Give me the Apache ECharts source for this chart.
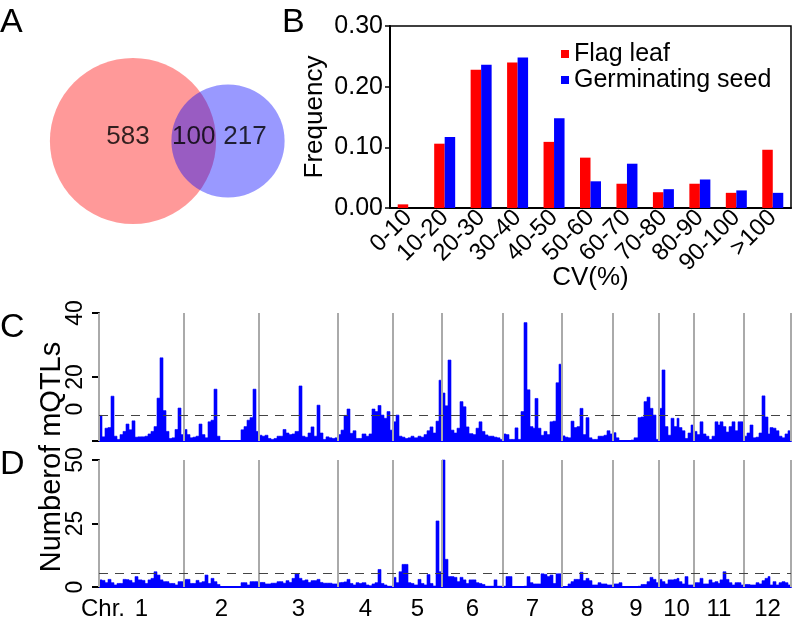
<!DOCTYPE html>
<html><head><meta charset="utf-8">
<script src="https://cdn.jsdelivr.net/npm/echarts@6/dist/echarts.min.js"></script>
<style>html,body{margin:0;padding:0;background:#fff}#c{width:799px;height:624px}</style>
</head><body><div id="c"></div>
<script>
// ---- Panel A: Venn counts ----
const vennOnlyLeaf = 583;
const vennShared = 100;
const vennOnlySeed = 217;

// ---- Panel B: CV distribution ----
const cvBins = ['0-10','10-20','20-30','30-40','40-50','50-60','60-70','70-80','80-90','90-100','>100'];
const flagLeaf = [0.006,0.106,0.228,0.240,0.109,0.083,0.040,0.026,0.040,0.025,0.096];
const germSeed = [0,0.117,0.236,0.248,0.148,0.044,0.073,0.031,0.047,0.029,0.025];

// ---- Panels C/D: mQTL counts along chromosomes ----
const chrNames = ['1','2','3','4','5','6','7','8','9','10','11','12'];
const chrLengths = [85,75,79,55,49,61,59,51,46,35,50,47];
const leafThreshold = 8;
const seedThreshold = 5.5;

const leafChr1 = [8,1.3,4,4.2,14,1.5,0.5,2,3,5.3,3.5,6.3,1.2,1.3,1.3,1.5,2.2,3,4.5,13.4,26,9.5,3,0.8,1,3.6,10.3,2];
const leafChr2 = [3.6,2,1,1.2,1.5,5.3,2,1,6,6.5,16.2,1.5,0,0,0,0,0,0,0,3.5,4.5,6.5,7.3,16.2,3];
const leafChr3 = [1.8,1.5,1.8,0.8,0.5,0.8,1.5,1.5,3.6,2.5,2,2.2,3,17.2,1.5,1.2,2.5,4.4,1.5,11.2,2.5,0.5,1.3,1,0.8,1];
const leafChr4 = [2,3.4,8,10,2.4,3.2,0.8,0.8,2.2,1.5,2.2,10,9.2,11.1,8.1,7.1,9.2,3.4];
const leafChr5 = [6,8.1,1.5,1.2,0.8,1,1.5,1,1.5,1.2,2,3.2,4.4,2.5,6.2,19];
const leafChr6 = [15,11,25.3,3.4,2.5,4,12.3,10.7,4.4,2.3,2,4,6,3,1.9,1.5,1.5,1.2,1,0.5];
const leafChr7 = [2.2,2,0.5,0.5,4.1,0.5,9.2,37,16,4.5,4,13.3,4,1.8,3,2,6,6.2,18.2,24];
const leafChr8 = [1.6,1.2,1,6.2,4.2,4.5,10.2,2,7.3,1,0.5,0.5,1.5,1.5,1.8,3.2,2.2];
const leafChr9 = [2.6,1,0,0,0,0,0.3,1,7.3,7.5,12.3,13.7,10.2,8.1,0.5];
const leafChr10 = [10.2,22.2,4.5,1.8,7.1,4.5,7.1,4.2,3.2,0.8,2.5,5];
const leafChr11 = [3,2,6,2.2,1.5,0.5,1.5,6,5,6,4.5,2.8,4.5,6,3.2,6,6];
const leafChr12 = [1.5,2.5,5,1,1.2,2.5,14.1,7.5,2.2,4.2,4,3.2,1.5,1,2.2,3.2];

const seedChr1 = [2.8,2.6,1.7,3.0,1.7,0.8,1.4,1.4,3.0,2.9,2.6,1.7,4.1,2.8,2.6,1.4,2.8,3.4,6.0,4.7,2.8,2.1,2.1,1.4,1.4,0.8,2.1,2.1];
const seedChr2 = [3.0,3.0,1.4,1.4,2.6,1.7,2.1,4.7,1.4,3.4,2.1,1.0,0,0,0,0,0,0,0,1.7,1.7,0.8,2.1,2.1,2.1];
const seedChr3 = [1.8,1.8,1.2,1.2,1.5,1.5,2.1,2.1,1.5,2.5,1.8,3.4,5.1,3.4,2.5,2.8,1.8,2.5,2.5,3.0,1.8,1.5,1.5,1.5,1.2,1.2];
const seedChr4 = [1.7,1.8,2.0,3.0,1.4,0.8,1.7,1.4,1.7,0.8,0.5,1.2,1.7,6.9,1.4,0.8,0.3,0.3];
const seedChr5 = [3.8,1.7,6,8.9,8.9,1.7,1.4,0.8,3.0,1.4,0.8,4.9,1.4,0.4,26,6];
const seedChr6 = [50,10.9,4.1,4.1,3.8,2.1,3.8,2.8,1.4,2.8,2.8,1.7,1.4,1.0,0.3,0.3,0.3,2.8,0.3,0.3];
const seedChr7 = [0.3,4.1,4.1,0,0,0,0,0.3,4.1,1.7,1.2,1.2,1.2,5.2,5,4.1,4.7,1.4,5.2,5.2];
const seedChr8 = [0.2,0.2,1.2,2.1,3.0,3.0,5.8,2.5,3.4,2.5,0.8,0.8,1.7,1.2,1.2,0.8,0.8];
const seedChr9 = [1.2,1.2,1.7,0,0,0,0,0,0.3,1.0,1.0,2.1,3.8,3.0,1.7];
const seedChr10 = [3.0,2.1,1.2,2.8,2.8,3.0,3.4,2.1,1.2,4.1,0.8,0.8];
const seedChr11 = [1.7,1.7,3.4,1.2,1.2,2.8,1.7,2.1,1.4,2.8,6.0,3.0,1.7,0.8,1.7,1.7,0.8];
const seedChr12 = [1.0,1.0,0.8,0.8,1.7,1.2,2.5,3.4,4.1,0.8,2.1,0.8,1.7,2.1,1.7,0.8];

const leafByChr = [leafChr1,leafChr2,leafChr3,leafChr4,leafChr5,leafChr6,leafChr7,leafChr8,leafChr9,leafChr10,leafChr11,leafChr12];
const seedByChr = [seedChr1,seedChr2,seedChr3,seedChr4,seedChr5,seedChr6,seedChr7,seedChr8,seedChr9,seedChr10,seedChr11,seedChr12];

// ---- derived ----
const chrStarts = [];
let acc = 0;
chrLengths.forEach(l => { chrStarts.push(acc); acc += l; });
const genomeLen = acc;
const boundaries = chrStarts.concat([genomeLen]);
const chrCenters = chrStarts.map((s, i) => s + chrLengths[i] / 2);

function toBins(byChr) {
  const out = [];
  byChr.forEach((vals, c) => {
    const step = chrLengths[c] / vals.length;
    vals.forEach((v, i) => out.push([chrStarts[c] + i * step, chrStarts[c] + (i + 1) * step, v]));
  });
  return out;
}

function renderBin(params, api) {
  const v = api.value(2);
  if (!v) return null;
  const p0 = api.coord([api.value(0), v]);
  const p1 = api.coord([api.value(1), 0]);
  const x0 = Math.round(p0[0]);
  const x1 = Math.round(p1[0]);
  return {type: 'rect', shape: {x: x0, y: p0[1], width: Math.max(1, x1 - x0), height: p1[1] - p0[1]},
          style: {fill: '#0000ff', stroke: '#0000ff', lineWidth: 0.6}};
}

const FONT = 'Liberation Sans, Arial, Helvetica, sans-serif';
const chart = echarts.init(document.getElementById('c'), null, {renderer: 'canvas'});

const leafTotal = vennOnlyLeaf + vennShared;
const seedTotal = vennOnlySeed + vennShared;
const rScale = 3.18;
const rLeaf = rScale * Math.sqrt(leafTotal);
const rSeed = rScale * Math.sqrt(seedTotal);
const vennY = 141;
const leafCx = 133;
const seedCx = 228;

function markLines(threshold) {
  const d = boundaries.map(b => ({xAxis: b, lineStyle: {color: '#aaaaaa', width: 2, type: 'solid'}}));
  d.push({yAxis: threshold, lineStyle: {color: '#444444', width: 1, type: [9, 7]}});
  return {symbol: ['none', 'none'], silent: true, label: {show: false}, data: d, animation: false};
}

function yAxisFor(grid, max, interval, liftZero) {
  return {
    gridIndex: grid, type: 'value', min: 0, max: max, interval: interval, offset: 6,
    axisLine: {show: true, lineStyle: {color: '#000', width: 2}},
    axisTick: {show: true, length: 7, lineStyle: {color: '#000', width: 2}},
    axisLabel: {rotate: 90, fontSize: 23, color: '#000', margin: 6, fontFamily: FONT,
      formatter: v => (liftZero && v === 0) ? '{z|0}' : String(v),
      rich: {z: {fontSize: 23, fontFamily: FONT, padding: [0, 0, 0, 64]}}},
    splitLine: {show: false}
  };
}

const option = {
  animation: false,
  textStyle: {fontFamily: FONT, color: '#000'},
  grid: [
    {left: 0, top: 0, width: 300, height: 290},
    {left: 390, top: 26, width: 401, height: 182, show: true, borderColor: '#000', borderWidth: 1.5},
    {left: 99, top: 313, width: 692, height: 128},
    {left: 99, top: 460, width: 692, height: 127}
  ],
  legend: {
    data: ['Flag leaf', 'Germinating seed'], orient: 'vertical', left: 556, top: 36,
    icon: 'rect', itemWidth: 8, itemHeight: 8, itemGap: 0,
    textStyle: {fontSize: 25, color: '#000', fontFamily: FONT, lineHeight: 26}
  },
  xAxis: [
    {gridIndex: 0, type: 'value', min: 0, max: 300, show: false},
    {gridIndex: 1, type: 'category', data: cvBins,
     axisLine: {lineStyle: {color: '#000', width: 2}},
     axisTick: {length: 6, lineStyle: {color: '#000', width: 1.5}},
     axisLabel: {rotate: 45, fontSize: 24, color: '#000', margin: 6, interval: 0, fontFamily: FONT},
     name: 'CV(%)', nameLocation: 'middle', nameGap: 57, nameMoveOverlap: false,
     nameTextStyle: {fontSize: 26, color: '#000', fontFamily: FONT}},
    {gridIndex: 2, type: 'value', min: 0, max: genomeLen,
     axisLine: {show: true, onZero: true, lineStyle: {color: '#0000ff', width: 2}},
     axisTick: {show: false}, axisLabel: {show: false}, splitLine: {show: false}},
    {gridIndex: 3, type: 'value', min: 0, max: genomeLen,
     axisLine: {show: true, onZero: true, lineStyle: {color: '#0000ff', width: 2}},
     axisTick: {show: false}, splitLine: {show: false},
     axisLabel: {show: true, customValues: chrCenters, fontSize: 24, color: '#000', margin: 10, fontFamily: FONT,
       formatter: v => {
         let idx = 0, best = Infinity;
         chrCenters.forEach((c, i) => { if (Math.abs(c - v) < best) { best = Math.abs(c - v); idx = i; } });
         return idx === 0 ? '{p|Chr. }' + chrNames[0] + '{q|}' : chrNames[idx];
       },
       rich: {p: {width: 57, align: 'right', fontSize: 24, fontFamily: FONT}, q: {width: 57, fontSize: 24}}}}
  ],
  yAxis: [
    {gridIndex: 0, type: 'value', min: 0, max: 290, inverse: true, show: false},
    {gridIndex: 1, type: 'value', min: 0, max: 0.3, interval: 0.1,
     axisLine: {show: true, lineStyle: {color: '#000', width: 2}},
     axisTick: {show: true, length: 5, lineStyle: {color: '#000', width: 1.5}},
     axisLabel: {formatter: v => v.toFixed(2), fontSize: 25, color: '#000', margin: 7, fontFamily: FONT},
     splitLine: {show: false},
     name: 'Frequency', nameLocation: 'middle', nameGap: 62, nameMoveOverlap: false,
     nameTextStyle: {fontSize: 26, color: '#000', fontFamily: FONT}},
    yAxisFor(2, 40, 20, true),
    yAxisFor(3, 50, 25, false)
  ],
  series: [
    {type: 'scatter', xAxisIndex: 0, yAxisIndex: 0, silent: true, symbolSize: 2 * rLeaf,
     itemStyle: {color: 'rgba(255,0,0,0.5)'}, data: [[leafCx, vennY]], z: 1},
    {type: 'scatter', xAxisIndex: 0, yAxisIndex: 0, silent: true, symbolSize: 2 * rSeed,
     itemStyle: {color: 'rgba(0,0,255,0.5)'}, data: [[seedCx, vennY]], z: 2},
    {type: 'scatter', xAxisIndex: 0, yAxisIndex: 0, silent: true, symbolSize: 0.1, z: 3,
     itemStyle: {color: 'rgba(0,0,0,0)'},
     label: {show: true, position: 'inside', fontSize: 26, color: '#000', fontFamily: FONT,
             formatter: p => String(p.value[2])},
     data: [[leafCx - 5, vennY - 4, vennOnlyLeaf], [(leafCx + rLeaf + seedCx - rSeed) / 2, vennY - 4, vennShared], [seedCx + 17, vennY - 4, vennOnlySeed]]},
    {name: 'Flag leaf', type: 'bar', xAxisIndex: 1, yAxisIndex: 1, data: flagLeaf,
     itemStyle: {color: '#ff0000'}, barWidth: 10.5, barGap: '0%'},
    {name: 'Germinating seed', type: 'bar', xAxisIndex: 1, yAxisIndex: 1, data: germSeed,
     itemStyle: {color: '#0000ff'}, barWidth: 10.5, barGap: '0%'},
    {type: 'custom', xAxisIndex: 2, yAxisIndex: 2, data: toBins(leafByChr), renderItem: renderBin,
     encode: {x: [0, 1], y: 2}, silent: true, markLine: markLines(leafThreshold)},
    {type: 'custom', xAxisIndex: 3, yAxisIndex: 3, data: toBins(seedByChr), renderItem: renderBin,
     encode: {x: [0, 1], y: 2}, silent: true, markLine: markLines(seedThreshold)}
  ],
  graphic: [
    {type: 'text', left: 0, top: 6, style: {text: 'A', font: '34px ' + FONT, fill: '#000'}},
    {type: 'text', left: 282, top: 6, style: {text: 'B', font: '34px ' + FONT, fill: '#000'}},
    {type: 'text', left: 0, top: 311, style: {text: 'C', font: '34px ' + FONT, fill: '#000'}},
    {type: 'text', left: 0, top: 448, style: {text: 'D', font: '34px ' + FONT, fill: '#000'}},
    {type: 'text', x: 52, y: 457, rotation: Math.PI / 2,
     style: {text: 'Numberof mQTLs', font: '29px ' + FONT, fill: '#000', align: 'center', verticalAlign: 'middle'}}
  ]
};
chart.setOption(option);
</script></body></html>
